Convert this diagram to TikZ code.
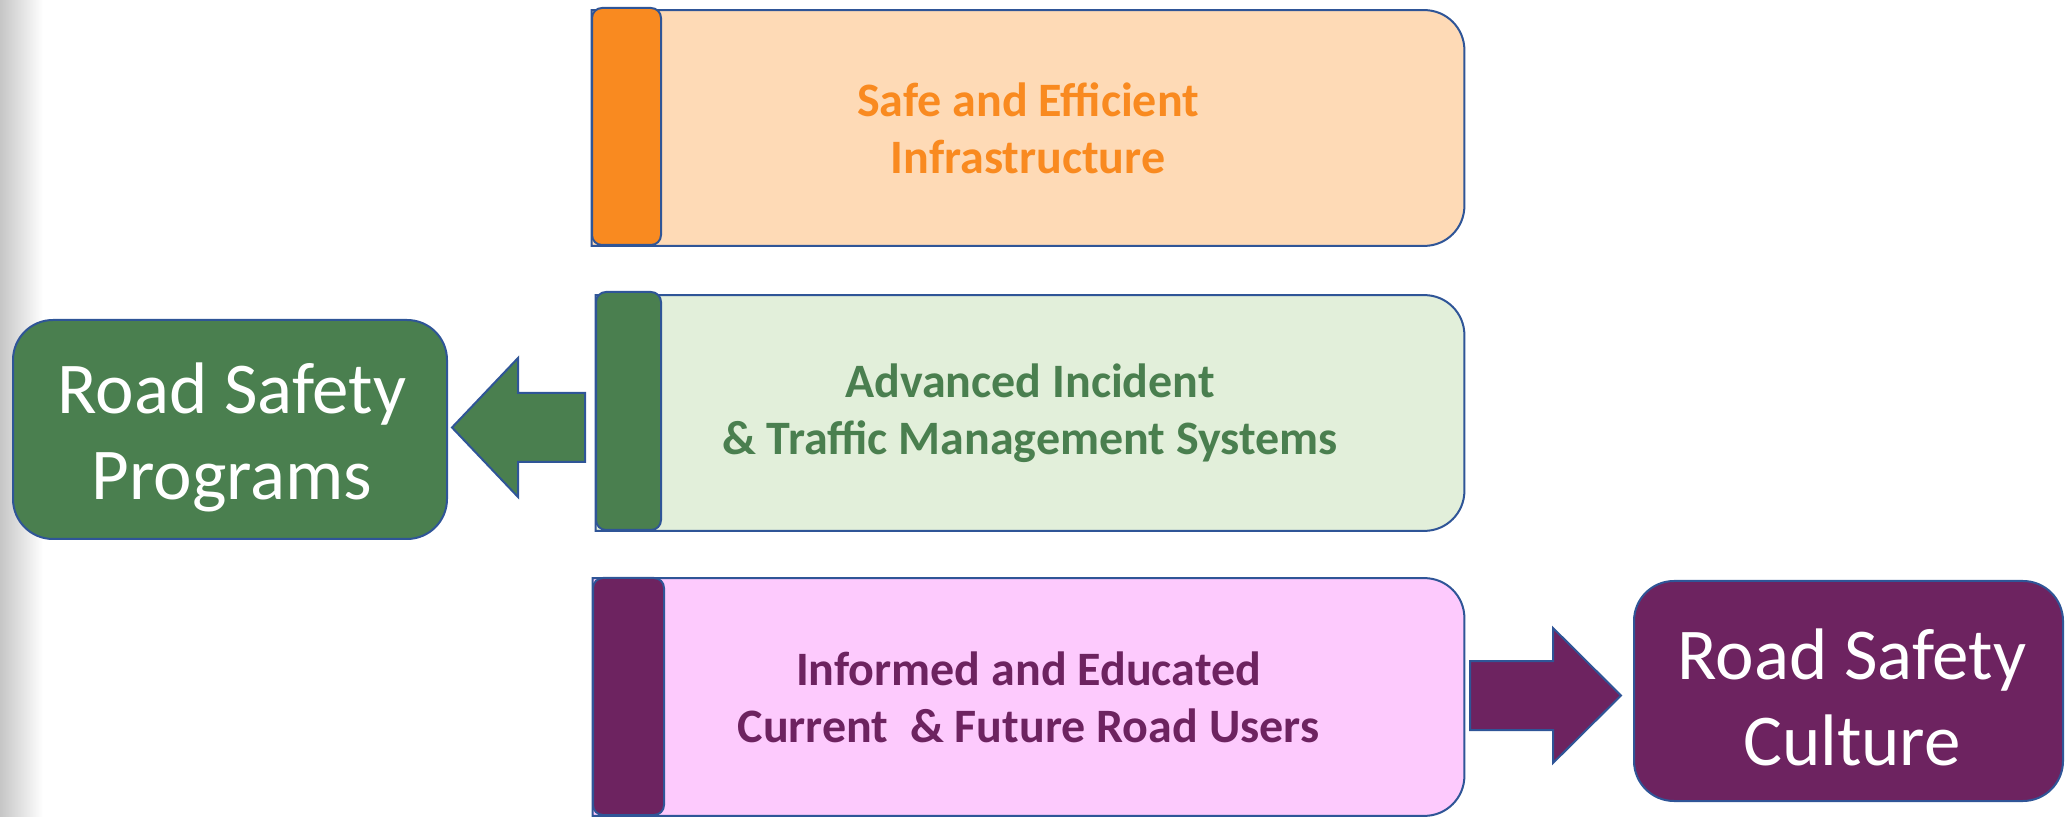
\documentclass[tikz,border=0pt]{standalone}
\usepackage{fontspec}
\setmainfont{Carlito}
\usetikzlibrary{calc}
\pgfdeclarelayer{bg}
\pgfsetlayers{bg,main}
\definecolor{edgeblue}{HTML}{2F5597}
\definecolor{orangeD}{HTML}{F98A20}
\definecolor{orangeL}{HTML}{FEDAB6}
\definecolor{greenD}{HTML}{4A7F4F}
\definecolor{greenL}{HTML}{E2EFDA}
\definecolor{purpleD}{HTML}{6D2360}
\definecolor{purpleL}{HTML}{FDCAFD}
\tikzset{
  edge/.style={draw=edgeblue, line width=1pt},
  bigbox/.style={edge, rounded corners=20pt, inner sep=0pt},
  bigtext/.style={text=white, align=center, inner sep=0pt, font=\fontsize{36.5}{43}\selectfont},
  mainbox/.style={inner sep=0pt, align=center, font=\bfseries\fontsize{24}{28.5}\selectfont},
  tabbox/.style={edge, rounded corners=5pt, inner sep=0pt},
  blockarrow/.style={edge, line join=miter},
}
\newcommand{\bandshape}[2]{%
  \begin{pgfonlayer}{bg}
  \draw[edge, fill=#2] (#1.north west) -- ([xshift=-20pt]#1.north east)
     arc[start angle=90, end angle=0, radius=20pt]
     -- ([yshift=20pt]#1.south east)
     arc[start angle=0, end angle=-90, radius=20pt]
     -- (#1.south west) -- cycle;
  \end{pgfonlayer}}
\begin{document}
\begin{tikzpicture}[x=0.5pt,y=-0.5pt]
\useasboundingbox (0,0) rectangle (2066,817);
\shade[left color=gray!45, right color=white] (0,0) rectangle (43,817);

% top band
\node[mainbox, text=orangeD, minimum width=436pt, minimum height=117.5pt] (infra) at (1028,128)
  {Safe and Efficient\\Infrastructure};
\bandshape{infra}{orangeL}
\node[tabbox, fill=orangeD, minimum width=34.5pt, minimum height=118.5pt] (infratab) at (626.5,126.5) {};

% middle band
\node[mainbox, text=greenD, minimum width=434pt, minimum height=117.5pt] (aitm) at (1030,413)
  {Advanced Incident\\\& Traffic Management Systems};
\bandshape{aitm}{greenL}
\node[tabbox, fill=greenD, minimum width=32.5pt, minimum height=119pt] (aitmtab) at (628.5,411) {};

% bottom band
\node[mainbox, text=purpleD, minimum width=435.5pt, minimum height=118.5pt] (users) at (1028.5,697)
  {Informed and Educated\\Current\ \ \& Future Road Users};
\bandshape{users}{purpleL}
\node[tabbox, fill=purpleD, minimum width=35.5pt, minimum height=118.5pt] (userstab) at (628.5,696.5) {};

% outcome boxes
\node[bigbox, fill=greenD, minimum width=217pt, minimum height=109.5pt] (programs) at (230,429.5) {};
\node[bigtext] (programstext) at (232,437) {Road Safety\\Programs};
\node[bigbox, fill=purpleD, minimum width=214.5pt, minimum height=110pt] (culture) at (1848.5,691) {};
\node[bigtext] (culturetext) at (1852,697) {Road Safety\\Culture};

% block arrows
\coordinate (latail) at (585,427.5);
\coordinate (latip) at (452,427.5);
\draw[blockarrow, fill=greenD] (latip) -- ($(latip)+(66,-69.5)$) -- ($(latip)+(66,-34.5)$)
  -- ($(latail)+(0,-34.5)$) -- ($(latail)+(0,34.5)$) -- ($(latip)+(66,34.5)$)
  -- ($(latip)+(66,69.5)$) -- cycle;
\coordinate (ratail) at (1470,695.5);
\coordinate (ratip) at (1621,695.5);
\draw[blockarrow, fill=purpleD] (ratip) -- ($(ratip)+(-68,-67.5)$) -- ($(ratip)+(-68,-34.5)$)
  -- ($(ratail)+(0,-34.5)$) -- ($(ratail)+(0,34.5)$) -- ($(ratip)+(-68,34.5)$)
  -- ($(ratip)+(-68,67.5)$) -- cycle;
\end{tikzpicture}
\end{document}
